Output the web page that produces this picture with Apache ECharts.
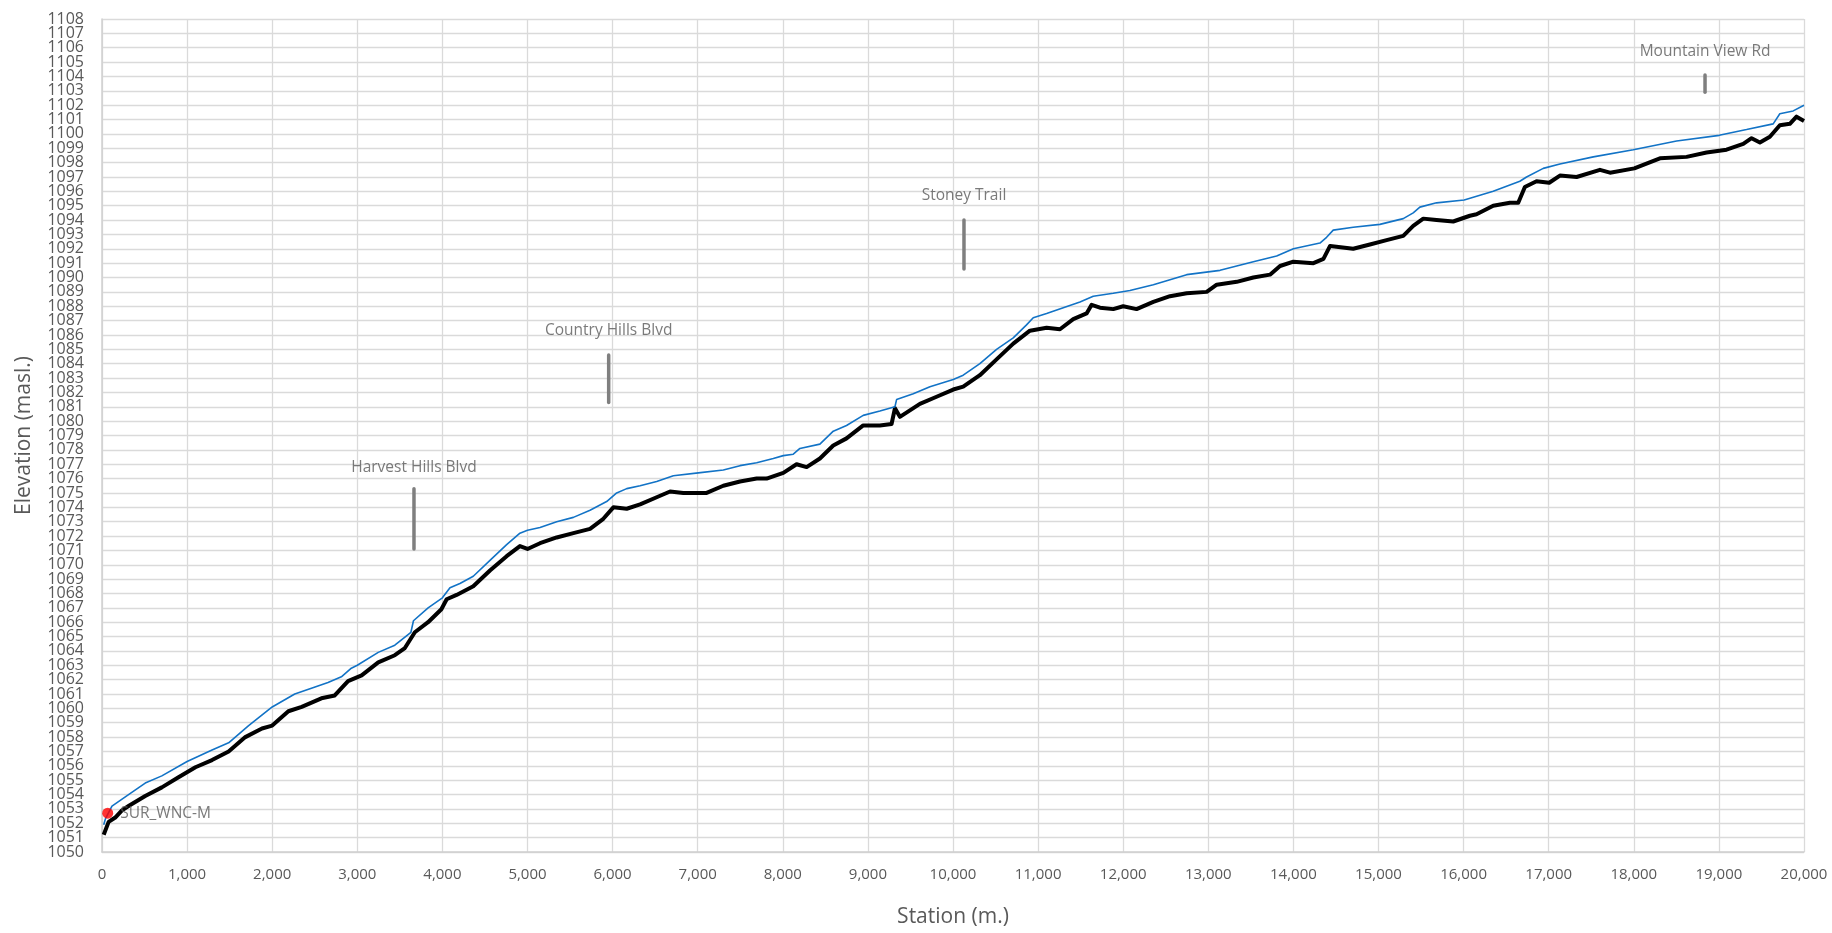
<!DOCTYPE html>
<html>
<head>
<meta charset="utf-8">
<script src="https://cdn.jsdelivr.net/npm/echarts@6/dist/echarts.min.js"></script>
<style>
html,body{margin:0;padding:0;background:#fff;}
#chart{width:1832px;height:933px;}
</style>
</head>
<body>
<div id="chart"></div>
<script>
// Design (blue) profile: station (m) and elevation (masl)
const blueStations = [20,40,117,312,508,703,1000,1293,1488,1723,2000,2265,2461,2656,2813,2930,3000,3246,3441,3630,3660,3832,4000,4089,4206,4363,4559,4755,4911,5000,5147,5343,5539,5735,5930,6048,6166,6323,6518,6714,7007,7301,7497,7693,7888,8006,8123,8201,8436,8593,8749,8945,9141,9318,9337,9533,9729,10003,10120,10316,10512,10708,10864,10943,11100,11296,11492,11648,11883,12079,12354,12746,13138,13529,13803,14000,14312,14390,14468,14703,15016,15291,15408,15486,15682,16007,16348,16661,16740,16936,17132,17524,17994,18503,19004,19325,19638,19716,19873,20000];
const blueElev = [1051.9,1052.3,1053.2,1054.0,1054.8,1055.3,1056.3,1057.1,1057.6,1058.8,1060.1,1061.0,1061.4,1061.8,1062.2,1062.8,1063.0,1063.9,1064.4,1065.3,1066.1,1067.0,1067.7,1068.4,1068.7,1069.2,1070.3,1071.4,1072.2,1072.4,1072.6,1073.0,1073.3,1073.8,1074.4,1075.0,1075.3,1075.5,1075.8,1076.2,1076.4,1076.6,1076.9,1077.1,1077.4,1077.6,1077.7,1078.1,1078.4,1079.3,1079.7,1080.4,1080.7,1081.0,1081.5,1081.9,1082.4,1082.9,1083.2,1084.0,1085.0,1085.8,1086.7,1087.2,1087.5,1087.9,1088.3,1088.7,1088.9,1089.1,1089.5,1090.2,1090.5,1091.1,1091.5,1092.0,1092.4,1092.8,1093.3,1093.5,1093.7,1094.1,1094.5,1094.9,1095.2,1095.4,1096.0,1096.7,1097.0,1097.6,1097.9,1098.4,1098.9,1099.5,1099.9,1100.3,1100.7,1101.4,1101.6,1102.0];

// Measured (black) profile
const blackStations = [20,78,156,234,312,508,703,899,1098,1293,1488,1684,1880,2000,2190,2347,2578,2735,2891,3051,3246,3441,3559,3676,3832,3988,4050,4167,4363,4559,4755,4911,5000,5147,5343,5539,5735,5891,6009,6166,6323,6518,6675,6831,7007,7105,7301,7497,7693,7810,8006,8162,8280,8436,8593,8749,8945,9141,9278,9318,9376,9611,9807,10003,10120,10316,10512,10708,10904,11100,11257,11413,11570,11629,11727,11883,12000,12157,12354,12550,12746,12981,13099,13334,13529,13725,13843,14000,14235,14353,14431,14703,14899,15095,15291,15408,15526,15682,15878,16074,16152,16348,16544,16642,16720,16857,17006,17132,17328,17602,17720,18006,18307,18620,18855,19090,19286,19384,19482,19599,19716,19834,19912,20000];
const blackElev = [1051.2,1052.1,1052.4,1052.9,1053.2,1053.9,1054.5,1055.2,1055.9,1056.4,1057.0,1058.0,1058.6,1058.8,1059.8,1060.1,1060.7,1060.9,1061.9,1062.3,1063.2,1063.7,1064.2,1065.3,1066.0,1066.9,1067.6,1067.9,1068.5,1069.6,1070.6,1071.3,1071.1,1071.5,1071.9,1072.2,1072.5,1073.2,1074.0,1073.9,1074.2,1074.7,1075.1,1075.0,1075.0,1075.0,1075.5,1075.8,1076.0,1076.0,1076.4,1077.0,1076.8,1077.4,1078.3,1078.8,1079.7,1079.7,1079.8,1080.9,1080.3,1081.2,1081.7,1082.2,1082.4,1083.2,1084.3,1085.4,1086.3,1086.5,1086.4,1087.1,1087.5,1088.1,1087.9,1087.8,1088.0,1087.8,1088.3,1088.7,1088.9,1089.0,1089.5,1089.7,1090.0,1090.2,1090.8,1091.1,1091.0,1091.3,1092.2,1092.0,1092.3,1092.6,1092.9,1093.6,1094.1,1094.0,1093.9,1094.3,1094.4,1095.0,1095.2,1095.2,1096.3,1096.7,1096.6,1097.1,1097.0,1097.5,1097.3,1097.6,1098.3,1098.4,1098.7,1098.9,1099.3,1099.7,1099.4,1099.8,1100.6,1100.7,1101.2,1100.9];

// Road crossings: label, station, bar bottom / top, label elevation
const crossingNames = ['Harvest Hills Blvd','Country Hills Blvd','Stoney Trail','Mountain View Rd'];
const crossingStations = [3666,5954,10129,18837];
const crossingLow = [1071.1,1081.3,1090.6,1102.9];
const crossingHigh = [1075.3,1084.6,1094.0,1104.1];
const crossingLabelElev = [1076.8,1086.3,1095.7,1105.7];

// Survey point
const surveyName = 'SUR_WNC-M';
const surveyStation = 67;
const surveyElev = 1052.7;

// Axes
const xMin = 0, xMax = 20000, xStep = 1000;
const yMin = 1050, yMax = 1108, yStep = 1;

const FONT = '"Open Sans", "DejaVu Sans", sans-serif';
const GRAY = '#595959';

const chart = echarts.init(document.getElementById('chart'), null, {renderer:'canvas'});

const series = [
  {
    name:'Design', type:'line', showSymbol:false, symbol:'none',
    data: blueStations.map((s,i)=>[s, blueElev[i]]),
    lineStyle:{color:'#1273C6', width:1.6}, z:3, animation:false
  },
  {
    name:'Measured', type:'line', showSymbol:false, symbol:'none',
    data: blackStations.map((s,i)=>[s, blackElev[i]]),
    lineStyle:{color:'#000000', width:4, join:'round'}, z:2, animation:false
  }
];

crossingNames.forEach((n,i)=>{
  series.push({
    name:n+' bar', type:'line', showSymbol:false, symbol:'none', animation:false,
    data:[[crossingStations[i], crossingLow[i]],[crossingStations[i], crossingHigh[i]]],
    lineStyle:{color:'#7F7F7F', width:3.5, cap:'round'}, z:4
  });
});

series.push({
  name:'Crossing labels', type:'scatter', symbolSize:1, animation:false,
  itemStyle:{color:'rgba(0,0,0,0)'},
  data: crossingNames.map((n,i)=>({name:n, value:[crossingStations[i], crossingLabelElev[i]]})),
  label:{show:true, position:'inside', formatter:p=>p.name, color:GRAY,
         fontFamily:FONT, fontSize:15.5, align:'center', verticalAlign:'middle'},
  emphasis:{disabled:true},
  z:5
});

series.push({
  name:'Survey', type:'scatter', symbol:'circle', symbolSize:11, animation:false,
  itemStyle:{color:'#FF0000'},
  data:[{name:surveyName, value:[surveyStation, surveyElev]}],
  label:{show:true, position:'right', distance:7, formatter:p=>p.name, color:GRAY,
         fontFamily:FONT, fontSize:15.5},
  z:6
});

const yLabelStyle = {color:GRAY, fontFamily:FONT, fontSize:16, margin:18};

chart.setOption({
  backgroundColor:'#ffffff',
  animation:false,
  grid:{left:102, right:28, top:19, bottom:70, containLabel:false},
  xAxis:{
    type:'value', min:xMin, max:xMax, interval:xStep,
    name:'Station (m.)', nameLocation:'middle', nameGap:55,
    nameTextStyle:{color:GRAY, fontSize:21, fontFamily:FONT},
    axisLine:{show:true, lineStyle:{color:'#D0D0D0', width:1.5}},
    axisTick:{show:false},
    axisLabel:{color:GRAY, fontSize:15, fontFamily:FONT, margin:15,
      showMinLabel:true, showMaxLabel:true, hideOverlap:false,
      formatter:v=>v.toLocaleString('en-US')},
    splitLine:{show:true, lineStyle:{color:'#DADADA', width:1.3}}
  },
  yAxis:[
    {
      type:'value', min:yMin, max:yMax, interval:yStep,
      name:'Elevation (masl.)', nameLocation:'middle', nameGap:67, nameRotate:90,
      nameTextStyle:{color:GRAY, fontSize:21, fontFamily:FONT},
      axisLine:{show:true, lineStyle:{color:'#D0D0D0', width:1.5}},
      axisTick:{show:false},
      axisLabel:Object.assign({showMinLabel:false, showMaxLabel:false, hideOverlap:false,
        formatter:v=>String(v)}, yLabelStyle),
      splitLine:{show:true, lineStyle:{color:'#DADADA', width:1.3}}
    },
    {
      // end labels (min / max) of the same elevation scale
      type:'value', position:'left', min:yMin, max:yMax, interval:yMax - yMin,
      axisLine:{show:false}, axisTick:{show:false}, splitLine:{show:false},
      axisLabel:Object.assign({showMinLabel:true, showMaxLabel:true, hideOverlap:false,
        formatter:v=>String(v)}, yLabelStyle)
    }
  ],
  series: series
});
</script>
</body>
</html>
